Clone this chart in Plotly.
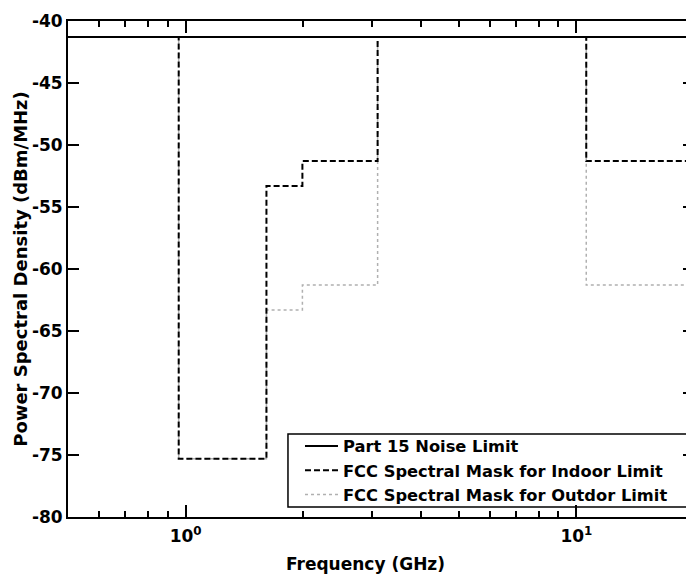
import math
import plotly.graph_objects as go

# ---- data ----
freq_edges = [0.5, 0.96, 1.61, 1.99, 3.1, 10.6, 20.0]          # GHz
part15_freq = [0.5, 20.0]
part15_psd = [-41.3, -41.3]                                       # dBm/MHz
indoor_psd = [-41.3, -75.3, -53.3, -51.3, -41.3, -51.3, -51.3]    # dBm/MHz
outdoor_psd = [-41.3, -75.3, -63.3, -61.3, -41.3, -61.3, -61.3]   # dBm/MHz

series_names = ["Part 15 Noise Limit",
                "FCC Spectral Mask for Indoor Limit",
                "FCC Spectral Mask for Outdor Limit"]

x_range_ghz = [0.5, 20.0]
x_tick_vals = [1, 10]
x_tick_text = ["10<sup>0</sup>", "10<sup>1</sup>"]
x_minor_vals = [0.6, 0.7, 0.8, 0.9, 2, 3, 4, 5, 6, 7, 8, 9]
y_tick_vals = [-80, -75, -70, -65, -60, -55, -50, -45, -40]
y_tick_text = ["-80", "-75", "-70", "-65", "-60", "-55", "-50", "-45", "-40"]

FONT = "DejaVu Sans"

fig = go.Figure()

fig.add_trace(go.Scatter(
    x=freq_edges, y=outdoor_psd, mode="lines", line_shape="hv",
    name=series_names[2], legendrank=3,
    line=dict(color="#b0b0b0", width=1.5, dash="dot"),
))
fig.add_trace(go.Scatter(
    x=freq_edges, y=indoor_psd, mode="lines", line_shape="hv",
    name=series_names[1], legendrank=2,
    line=dict(color="black", width=2, dash="6px,3px"),
))
fig.add_trace(go.Scatter(
    x=part15_freq, y=part15_psd, mode="lines",
    name=series_names[0], legendrank=1,
    line=dict(color="black", width=2),
))

# legend frame (extends past the right edge like the reference)
fig.add_shape(type="rect", xref="paper", yref="paper",
              x0=0.3514, x1=1.2, y0=0.0202, y1=0.1673,
              line=dict(color="black", width=1.5), fillcolor="rgba(0,0,0,0)",
              layer="above")

fig.add_annotation(
    text="Frequency (GHz)", xref="paper", yref="paper",
    x=0.476, y=-0.0948, xanchor="center", yanchor="middle",
    showarrow=False,
    font=dict(family=FONT, size=17, color="black", weight="bold"),
)

fig.update_layout(
    width=694, height=576,
    margin=dict(l=68, r=0, t=21, b=59, autoexpand=False),
    paper_bgcolor="white", plot_bgcolor="white",
    font=dict(family=FONT, size=16, color="black", weight="bold"),
    showlegend=True,
    legend=dict(
        x=0.3706, y=0.1774,
        xanchor="left", yanchor="top",
        bgcolor="rgba(255,255,255,0)", borderwidth=0,
        font=dict(family=FONT, size=16.3, color="black", weight="bold"),
        tracegroupgap=0, itemwidth=33,
    ),
    xaxis=dict(
        type="log",
        range=[math.log10(x_range_ghz[0]), math.log10(x_range_ghz[1])],
        tickmode="array", tickvals=x_tick_vals, ticktext=x_tick_text,
        ticks="inside", ticklen=12, tickwidth=1.5, tickcolor="black",
        ticklabelstandoff=3,
        minor=dict(tickmode="array", tickvals=x_minor_vals,
                   ticks="inside", ticklen=6, tickwidth=1.5, tickcolor="black",
                   showgrid=False),
        showline=True, linecolor="black", linewidth=2, mirror="ticks",
        showgrid=False, zeroline=False,
        tickfont=dict(family=FONT, size=17, color="black", weight="bold"),
    ),
    yaxis=dict(
        range=[-80, -40],
        tickmode="array", tickvals=y_tick_vals, ticktext=y_tick_text,
        ticks="inside", ticklen=11, tickwidth=1.5, tickcolor="black",
        showline=True, linecolor="black", linewidth=2, mirror="ticks",
        showgrid=False, zeroline=False,
        tickfont=dict(family=FONT, size=17, color="black", weight="bold"),
        title=dict(text="Power Spectral Density (dBm/MHz)", standoff=0,
                   font=dict(family=FONT, size=18, color="black", weight="bold")),
    ),
)

fig.write_html(
    "out.html",
    config={"displayModeBar": False},
    post_script="document.body.style.margin='0px';document.body.style.overflow='hidden';",
)
